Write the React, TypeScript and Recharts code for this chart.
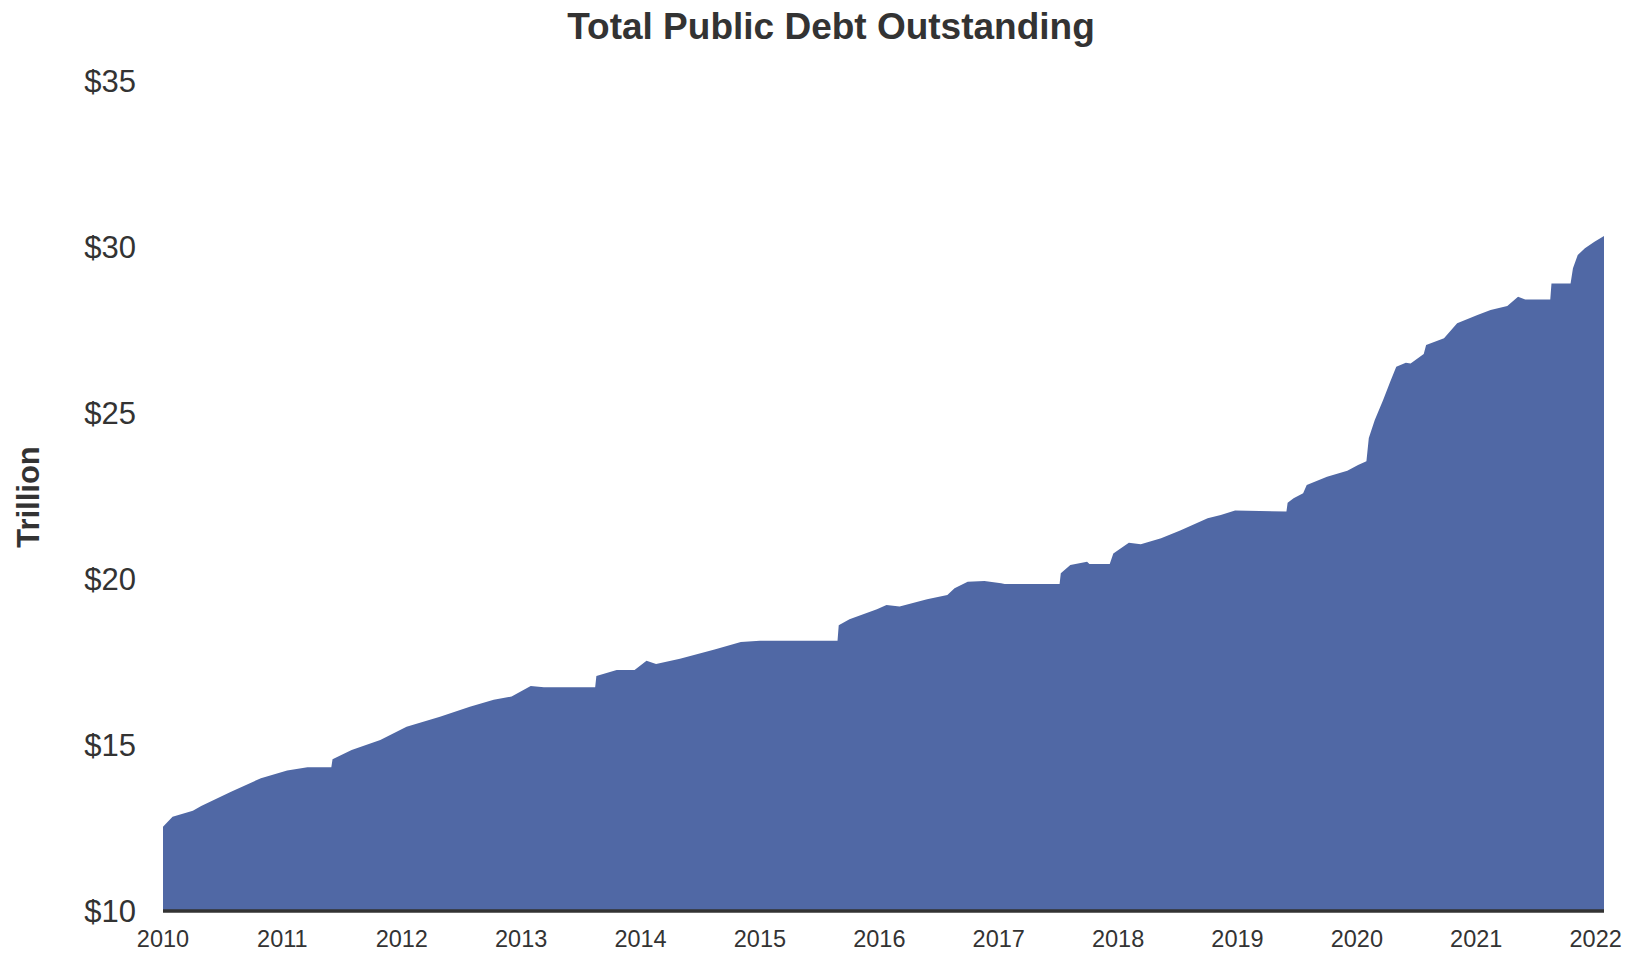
import { AreaChart, Area, XAxis, YAxis } from 'recharts';

// fractional year of each reading (series runs a little past Jan 2022)
const years = [
  2010.0, 2010.08, 2010.25, 2010.32, 2010.57, 2010.82, 2011.04, 2011.21, 2011.41, 2011.42,
  2011.58, 2011.82, 2012.04, 2012.32, 2012.57, 2012.77, 2012.92, 2013.08, 2013.19, 2013.62,
  2013.63, 2013.8, 2013.95, 2014.05, 2014.13, 2014.33, 2014.62, 2014.84, 2015.0, 2015.65,
  2015.66, 2015.75, 2015.98, 2016.06, 2016.17, 2016.4, 2016.57, 2016.63, 2016.74, 2016.88,
  2017.02, 2017.05, 2017.51, 2017.52, 2017.6, 2017.74, 2017.76, 2017.93, 2017.96, 2018.09,
  2018.19, 2018.36, 2018.52, 2018.75, 2018.86, 2018.98, 2019.41, 2019.42, 2019.47, 2019.55,
  2019.58, 2019.75, 2019.92, 2020.01, 2020.08, 2020.1, 2020.15, 2020.22, 2020.28, 2020.33,
  2020.41, 2020.45, 2020.56, 2020.58, 2020.73, 2020.84, 2021.01, 2021.12, 2021.26, 2021.35,
  2021.41, 2021.62, 2021.63, 2021.79, 2021.81, 2021.85, 2021.91, 2021.99, 2022.07,
];

// total public debt outstanding, trillions of dollars
const debt = [
  12.54, 12.84, 13.02, 13.16, 13.59, 14.0, 14.23, 14.33, 14.33, 14.57,
  14.85, 15.15, 15.55, 15.85, 16.15, 16.36, 16.46, 16.78, 16.74, 16.74,
  17.08, 17.26, 17.26, 17.54, 17.44, 17.6, 17.88, 18.1, 18.14, 18.14,
  18.61, 18.79, 19.09, 19.22, 19.17, 19.39, 19.52, 19.72, 19.92, 19.94,
  19.87, 19.85, 19.85, 20.17, 20.42, 20.52, 20.45, 20.45, 20.77, 21.09,
  21.05, 21.23, 21.46, 21.83, 21.93, 22.06, 22.03, 22.3, 22.43, 22.58,
  22.83, 23.08, 23.26, 23.43, 23.55, 24.25, 24.79, 25.39, 25.95, 26.39,
  26.51, 26.49, 26.78, 27.05, 27.25, 27.7, 27.95, 28.1, 28.22, 28.5,
  28.42, 28.42, 28.9, 28.9, 29.36, 29.76, 29.96, 30.16, 30.33,
];

const yearTicks = [2010, 2011, 2012, 2013, 2014, 2015, 2016, 2017, 2018, 2019, 2020, 2021, 2022];
const dollarTicks = [10, 15, 20, 25, 30, 35];

const data = years.map((year, i) => ({ year, debt: debt[i] }));

const FONT = '"Liberation Sans", Arial, sans-serif';
const TEXT = '#333333';
const FILL = '#5068a5';

export default function App() {
  return (
    <div style={{ position: 'absolute', left: 0, top: 0, width: 1638, height: 954, background: '#fff', fontFamily: FONT }}>
      <AreaChart width={1638} height={954} data={data} margin={{ top: 81, right: 34, bottom: 13, left: 0 }}>
        <XAxis
          dataKey="year"
          type="number"
          domain={[2010, 2022.07]}
          ticks={yearTicks}
          allowDataOverflow
          height={30}
          tickLine={false}
          tickMargin={13}
          axisLine={{ stroke: TEXT, strokeWidth: 3.5 }}
          tick={{ fill: TEXT, fontSize: 23.5, fontFamily: FONT }}
        />
        <YAxis
          type="number"
          domain={[10, 35]}
          ticks={dollarTicks}
          allowDataOverflow
          width={163}
          axisLine={false}
          tickLine={false}
          tickMargin={21}
          tickFormatter={(v: number) => `$${v}`}
          tick={{ fill: TEXT, fontSize: 31, fontFamily: FONT }}
        />
        <Area
          type="linear"
          dataKey="debt"
          stroke="none"
          fill={FILL}
          fillOpacity={1}
          isAnimationActive={false}
        />
      </AreaChart>
      <svg width={1638} height={954} style={{ position: 'absolute', left: 0, top: 0, pointerEvents: 'none' }}>
        <text x={831} y={26} textAnchor="middle" dominantBaseline="central" fill={TEXT} fontSize={37} fontWeight="bold" fontFamily={FONT}>
          Total Public Debt Outstanding
        </text>
        <text x={28} y={497} transform="rotate(-90 28 497)" textAnchor="middle" dominantBaseline="central" fill={TEXT} fontSize={31} fontWeight="bold" fontFamily={FONT}>
          Trillion
        </text>
      </svg>
    </div>
  );
}
